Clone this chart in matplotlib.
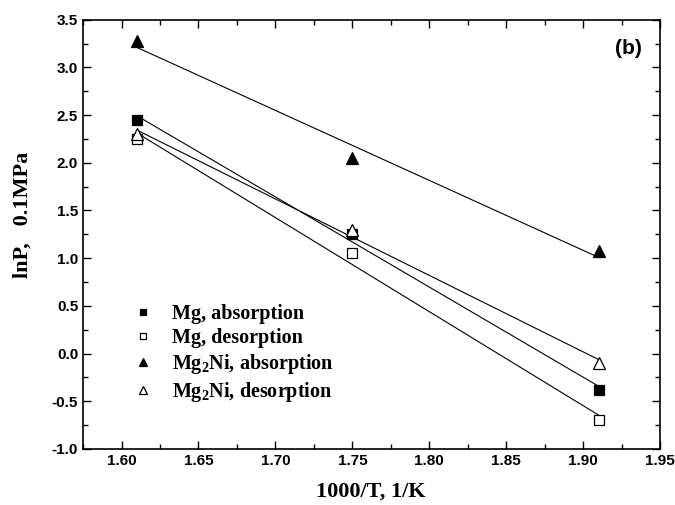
import numpy as np
import matplotlib.pyplot as plt
from matplotlib.ticker import MultipleLocator

# Data
inv_T = [1.61, 1.75, 1.91]              # 1000/T, 1/K
mg_abs = [2.45, 1.25, -0.38]            # lnP
mg_des = [2.25, 1.05, -0.70]
mg2ni_abs = [3.28, 2.05, 1.07]
mg2ni_des = [2.30, 1.30, -0.10]

labels = ["Mg, absorption", "Mg, desorption",
          r"Mg$_\mathbf{2}$Ni, absorption", r"Mg$_\mathbf{2}$Ni, desorption"]

plt.rcParams["mathtext.fontset"] = "custom"
plt.rcParams["mathtext.bf"] = "Liberation Serif:bold"
plt.rcParams["mathtext.rm"] = "Liberation Serif:bold"

fig = plt.figure(figsize=(6.75, 5.05), dpi=100)
ax = fig.add_axes([0.123, 0.111, 0.855, 0.850])

series = [mg_abs, mg_des, mg2ni_abs, mg2ni_des]
markers = ["s", "s", "^", "^"]
faces = ["black", "white", "black", "white"]
sizes = [6.5, 6.5, 8.5, 8.5]

x = np.array(inv_T)
for y, m, fc, ms, lab in zip(series, markers, faces, sizes, labels):
    ax.plot(x, y, linestyle="none", marker=m, markersize=ms,
            markerfacecolor=fc, markeredgecolor="black", markeredgewidth=0.9,
            label=lab, zorder=3)
    # linear fit through each set
    k, b = np.polyfit(x, y, 1)
    ax.plot(x[[0, -1]], k * x[[0, -1]] + b, color="black", lw=0.8, zorder=2)

ax.set_xlim(1.575, 1.95)
ax.set_ylim(-1.0, 3.5)
ax.xaxis.set_major_locator(MultipleLocator(0.05))
ax.xaxis.set_minor_locator(MultipleLocator(0.025))
ax.yaxis.set_major_locator(MultipleLocator(0.5))
ax.yaxis.set_minor_locator(MultipleLocator(0.25))
ax.xaxis.set_major_formatter(plt.FormatStrFormatter("%.2f"))
ax.yaxis.set_major_formatter(plt.FormatStrFormatter("%.1f"))
ax.tick_params(which="both", direction="in", top=True, right=True, width=1.0)
ax.tick_params(which="major", length=6)
ax.tick_params(which="minor", length=3.5)
for s in ax.spines.values():
    s.set_linewidth(1.2)
for t in ax.get_xticklabels() + ax.get_yticklabels():
    t.set_fontfamily("Liberation Sans")
    t.set_fontweight("bold")
    t.set_fontsize(11)

ax.set_xlabel("1000/T, 1/K", fontfamily="Liberation Serif", fontweight="bold",
              fontsize=16)
ax.set_ylabel("lnP,   0.1MPa", fontfamily="Liberation Serif", fontweight="bold",
              fontsize=16)
ax.xaxis.set_label_coords(0.498, -0.075)
ax.yaxis.set_label_coords(-0.087, 0.545)

ax.text(0.969, 0.934, "(b)", transform=ax.transAxes, ha="right", va="center",
        fontfamily="Liberation Sans", fontweight="bold", fontsize=15)

leg = ax.legend(loc="upper left", bbox_to_anchor=(0.055, 0.38), frameon=False,
                handlelength=1.0, handletextpad=0.95, markerscale=0.6,
                labelspacing=0.2,
                prop={"family": "Liberation Serif", "weight": "bold", "size": 14.5})

fig.savefig("out.png", dpi=100)
